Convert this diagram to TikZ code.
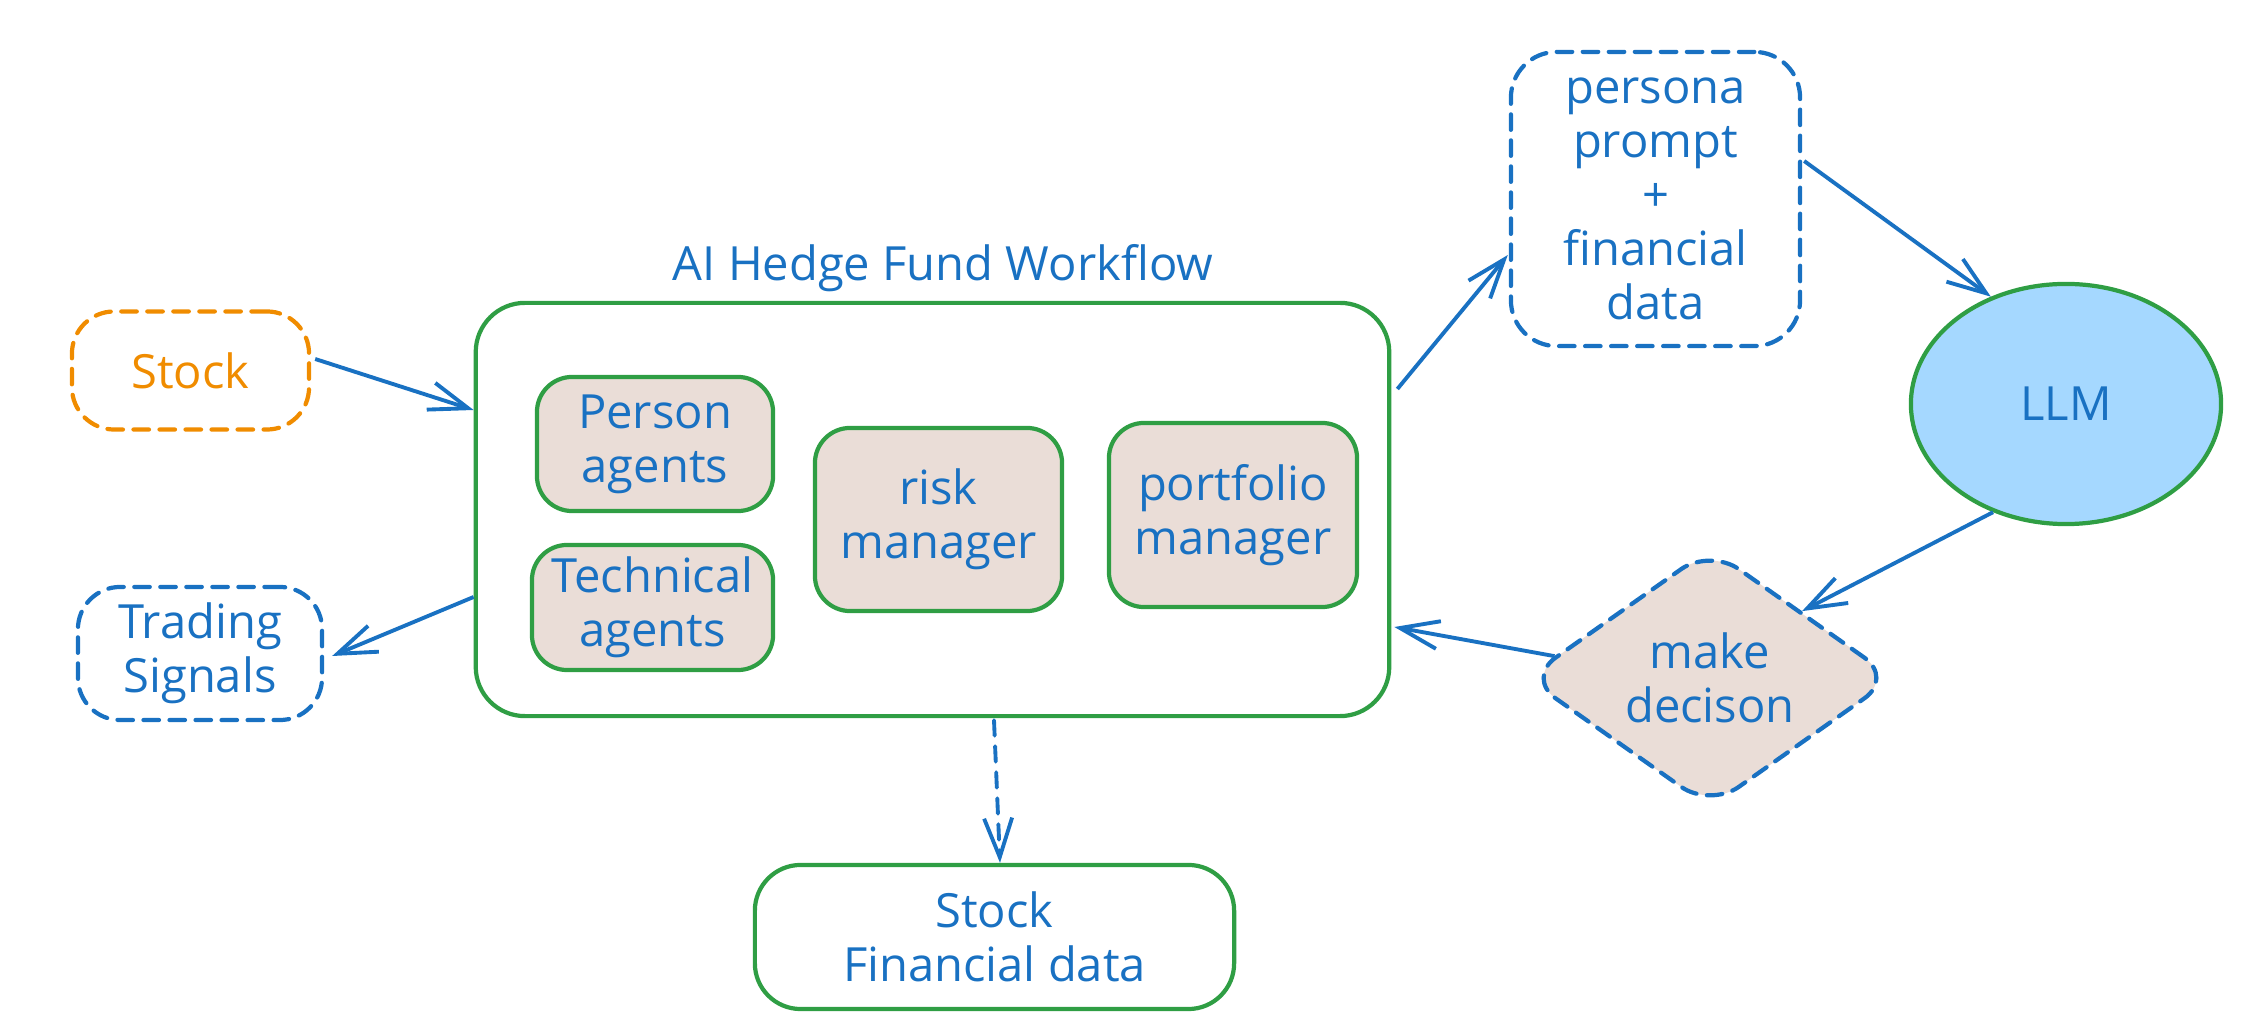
\documentclass[tikz,border=0pt]{standalone}
\usepackage{fontspec}
\setmainfont{Open Sans}
\usetikzlibrary{arrows.meta,shapes.geometric,calc}
\definecolor{exblue}{HTML}{1971C2}
\definecolor{exgreen}{HTML}{2F9E44}
\definecolor{exorange}{HTML}{F08C00}
\definecolor{exfill}{HTML}{EADDD7}
\definecolor{exsky}{HTML}{A5D8FF}
\tikzset{
  every node/.style={font=\fontsize{13.4}{15.3}\selectfont, text=exblue, align=center, inner sep=0pt},
  dsh/.style={dash pattern=on 4.4pt off 3pt, line cap=round},
  gbox/.style={draw=exgreen, line width=1.2pt, rectangle, rounded corners=#1},
  gbox/.default=12pt,
  agent/.style={gbox=10pt, fill=exfill},
  conn/.style={draw=exblue, line width=1.1pt, -{Straight Barb[length=0.39cm,width=0.28cm,line width=1.1pt]}},
}
\begin{document}
\begin{tikzpicture}[x=0.01cm,y=-0.01cm]
\useasboundingbox (0,0) rectangle (2250,1034);
% nodes
\node[draw=exorange, line width=1.2pt, dsh, rounded corners=12pt, minimum width=2.37cm, minimum height=1.18cm, text=exorange] (stock) at (190.5,370.5) {Stock};
\node[draw=exblue, line width=1.2pt, dsh, rounded corners=12pt, minimum width=2.44cm, minimum height=1.33cm] (signals) at (200,653.5) {Trading\\Signals};
\node[gbox=14pt, minimum width=9.13cm, minimum height=4.13cm] (main) at (932.5,509.5) {};
\node (title) at (943,268) {AI Hedge Fund Workflow};
\node[agent, minimum width=2.36cm, minimum height=1.34cm] (person) at (655,444) {Person\\agents};
\node[agent, minimum width=2.41cm, minimum height=1.25cm] (technical) at (652.5,607.5) {Technical\\agents};
\node[agent, minimum width=2.47cm, minimum height=1.83cm] (risk) at (938.5,519.5) {risk\\manager};
\node[agent, minimum width=2.48cm, minimum height=1.84cm] (portfolio) at (1233,515) {portfolio\\manager};
\node[draw=exblue, line width=1.2pt, dsh, rounded corners=13pt, minimum width=2.89cm, minimum height=2.94cm] (persona) at (1655.5,199) {persona\\prompt\\+\\financial\\data};
\node[ellipse, draw=exgreen, fill=exsky, line width=1.2pt, minimum width=3.1cm, minimum height=2.4cm] (llm) at (2066,404) {LLM};
\node[diamond, draw=exblue, fill=exfill, line width=1.2pt, dsh, rounded corners=10pt, minimum width=3.68cm, minimum height=2.6cm] (dec) at (1710,678) {make\\decison};
\node[gbox=13pt, minimum width=4.79cm, minimum height=1.44cm] (sfd) at (994.5,937) {Stock\\Financial data};
% connectors
\draw[conn] ($(stock.east)+(4,-11.5)$) -- ($(main.west)+(0,-99.5)$);
\draw[conn] ($(main.west)+(0,87.5)$) -- ($(signals.east)+(8,2.5)$);
\draw[conn] ($(main.east)+(6,-120.5)$) -- ($(persona.west)+(-1,56)$);
\draw[conn] ($(persona.east)+(2,-38)$) -- (llm.125.5);
\draw[conn] (llm.236.7) -- (dec.36);
\draw[conn] (dec.172) -- ($(main.east)+(3,117.5)$);
\draw[conn, dsh] ($(main.south)+(61.5,2)$) -- ($(sfd.north)+(5.5,0)$);
\end{tikzpicture}
\end{document}
